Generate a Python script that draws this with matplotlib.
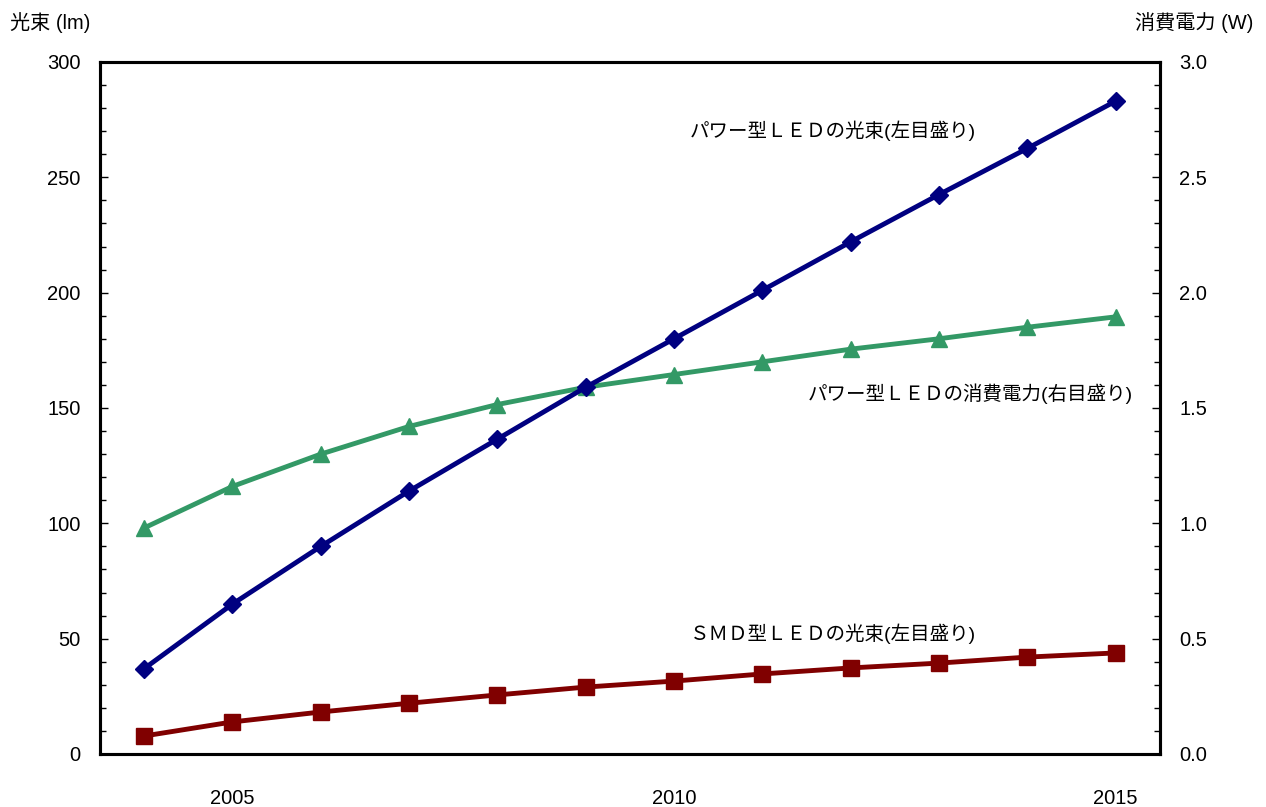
import matplotlib.pyplot as plt
from matplotlib.ticker import MultipleLocator

plt.rcParams['font.family'] = ['Liberation Sans', 'Noto Sans CJK JP', 'DejaVu Sans']

years = [2004, 2005, 2006, 2007, 2008, 2009, 2010, 2011, 2012, 2013, 2014, 2015]
power_led_lm = [37, 65, 90, 114, 136.5, 159, 180, 201, 222, 242.5, 262.5, 283]
smd_led_lm = [7.8, 13.9, 18.2, 22, 25.6, 29, 31.6, 34.7, 37.3, 39.4, 42, 43.8]
power_led_w = [0.98, 1.16, 1.30, 1.42, 1.515, 1.59, 1.645, 1.70, 1.755, 1.80, 1.85, 1.895]

fig = plt.figure(figsize=(12.66, 8.07), dpi=100)
ax = fig.add_axes([0.079, 0.0657, 0.837, 0.8575])
ax2 = ax.twinx()

ax2.plot(years, power_led_w, color='#339966', lw=3.5, marker='^', ms=12, zorder=2)
ax.plot(years, power_led_lm, color='#000080', lw=3.5, marker='D', ms=9, zorder=3)
ax.plot(years, smd_led_lm, color='#800000', lw=3.5, marker='s', ms=11, zorder=3)
ax.set_zorder(ax2.get_zorder() + 1)
ax.patch.set_visible(False)

ax.set_xlim(2003.5, 2015.5)
ax.set_ylim(0, 300)
ax2.set_ylim(0, 3.0)
ax.set_xticks([2005, 2010, 2015])
ax.tick_params(axis='x', length=0, pad=25, labelsize=14.5)
ax.yaxis.set_major_locator(MultipleLocator(50))
ax.yaxis.set_minor_locator(MultipleLocator(10))
ax2.yaxis.set_major_locator(MultipleLocator(0.5))
ax2.yaxis.set_minor_locator(MultipleLocator(0.1))
ax2.yaxis.set_major_formatter(lambda v, p: f'{v:.1f}')
for a in (ax, ax2):
    a.tick_params(axis='y', which='major', direction='in', length=6, width=1,
                  labelsize=14.5, pad=14)
    a.tick_params(axis='y', which='minor', direction='in', length=4, width=1)
    for s in a.spines.values():
        s.set_linewidth(2.2)

cjk = ['Liberation Sans', 'Noto Sans CJK JP']
fig.text(0.008, 0.972, '光束 (lm)', fontsize=14.5, family=cjk, va='center', ha='left')
fig.text(0.99, 0.972, '消費電力 (W)', fontsize=14.5, family=cjk, va='center', ha='right')

ax.text(2011.8, 270, 'パワー型ＬＥＤの光束(左目盛り)', fontsize=14, family=cjk,
        ha='center', va='center')
ax.text(2013.35, 156, 'パワー型ＬＥＤの消費電力(右目盛り)', fontsize=14, family=cjk,
        ha='center', va='center')
ax.text(2011.8, 52, 'ＳＭＤ型ＬＥＤの光束(左目盛り)', fontsize=14, family=cjk,
        ha='center', va='center')

fig.savefig('out.png', dpi=100)
